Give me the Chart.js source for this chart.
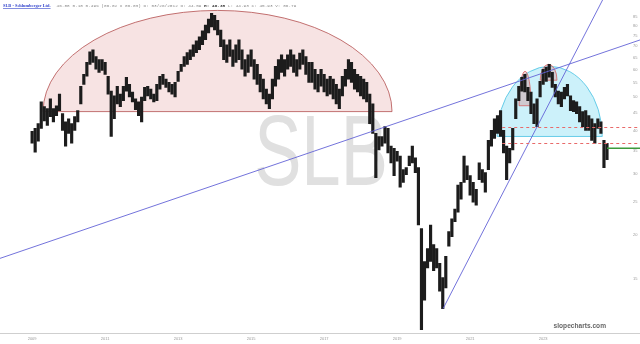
<!DOCTYPE html>
<html>
<head>
<meta charset="utf-8">
<script src="https://cdn.jsdelivr.net/npm/chart.js@4.4.1/dist/chart.umd.min.js"></script>
<style>
  html, body { margin: 0; padding: 0; background: #fff; }
</style>
</head>
<body>
<canvas id="myChart" width="640" height="344"></canvas>
<script>
// monthly high/low ranges, first bar is July 2009
const firstMonth = 2009.5;
const highs = [
  39.8, 40.6, 41.9, 48.4, 46.9, 46.3, 49.4, 46.3, 47.2, 51.0,
  44.8, 42.4, 43.3, 41.9, 43.9, 45.7, 53.7, 58.1, 62.9, 67.5,
  68.4, 65.4, 64.1, 64.1, 62.9, 57.4, 52.0, 50.4, 53.7, 51.0,
  53.7, 57.0, 54.4, 51.7, 49.4, 48.4, 50.0, 53.3, 53.7, 52.7,
  51.0, 54.4, 57.4, 58.1, 56.3, 55.1, 54.4, 55.1, 59.3, 62.1,
  65.4, 67.1, 68.4, 70.7, 72.6, 74.5, 77.5, 80.6, 83.8, 87.1,
  86.0, 83.2, 78.0, 73.1, 70.7, 73.1, 68.4, 70.7, 73.1, 68.4,
  64.1, 66.2, 68.4, 64.1, 62.1, 58.1, 56.3, 52.7, 51.0, 56.3,
  61.3, 64.1, 66.2, 64.1, 66.2, 68.4, 66.2, 64.1, 66.9, 68.4,
  65.4, 62.9, 62.9, 60.1, 58.1, 60.1, 58.1, 56.3, 57.4, 56.3,
  54.4, 52.7, 57.4, 60.1, 64.1, 62.9, 60.1, 58.1, 57.4, 56.3,
  55.1, 51.0, 47.8, 39.3, 38.5, 38.5, 41.1, 40.6, 36.1, 35.6,
  34.9, 33.8, 30.9, 31.3, 33.8, 36.1, 33.4, 31.3, 20.9, 16.8,
  18.3, 21.4, 18.8, 18.3, 16.6, 15.1, 17.4, 20.5, 22.3, 23.8,
  27.9, 28.4, 33.8, 31.7, 29.7, 28.4, 27.1, 32.3, 30.9, 30.3,
  37.5, 40.1, 43.3, 44.2, 45.7, 40.1, 36.1, 35.6, 40.6, 49.4,
  53.7, 57.0, 58.1, 53.3, 51.7, 47.8, 49.4, 55.5, 60.1, 60.9,
  62.1, 58.9, 54.4, 52.0, 51.7, 53.3, 54.4, 50.4, 48.8, 48.4,
  46.9, 45.4, 45.7, 44.2, 43.3, 41.9, 43.3, 42.4, 37.5, 36.8
];
const lows = [
  36.8, 34.7, 37.3, 40.6, 42.7, 41.4, 43.9, 42.4, 44.2, 45.7,
  40.1, 36.1, 39.3, 36.8, 40.1, 42.4, 47.8, 54.4, 57.4, 62.1,
  62.9, 60.1, 58.9, 59.7, 58.1, 51.0, 38.5, 43.3, 47.8, 46.9,
  48.8, 52.0, 50.0, 48.4, 46.0, 44.2, 42.4, 48.8, 50.4, 49.4,
  48.4, 48.8, 52.7, 54.4, 53.3, 51.7, 51.0, 50.0, 55.5, 59.3,
  61.3, 62.1, 64.1, 65.4, 67.1, 68.4, 70.7, 73.1, 76.5, 79.6,
  78.0, 75.5, 69.8, 64.1, 62.9, 65.4, 61.3, 62.9, 64.1, 60.1,
  57.4, 58.9, 61.3, 56.3, 54.4, 51.7, 49.4, 47.8, 46.3, 49.4,
  53.7, 56.3, 58.9, 57.4, 60.1, 61.3, 58.9, 57.4, 60.1, 62.1,
  58.1, 55.1, 55.1, 52.7, 51.7, 53.7, 51.7, 50.4, 51.0, 49.4,
  47.8, 46.3, 50.4, 53.7, 56.3, 55.1, 52.7, 51.7, 50.4, 49.4,
  48.4, 41.9, 39.3, 29.3, 35.2, 36.1, 36.8, 34.5, 32.3, 29.7,
  32.7, 27.5, 28.4, 29.9, 31.7, 32.3, 30.3, 21.4, 10.7, 13.0,
  16.1, 16.8, 15.8, 16.1, 13.8, 12.3, 14.1, 18.6, 19.8, 21.9,
  23.3, 25.4, 28.4, 28.9, 26.1, 24.9, 24.4, 28.9, 28.4, 26.6,
  30.9, 36.1, 38.0, 39.3, 38.5, 34.5, 28.9, 32.3, 35.2, 43.3,
  48.8, 52.0, 51.7, 48.8, 44.8, 41.9, 41.1, 50.0, 54.4, 55.5,
  57.0, 53.3, 50.0, 47.8, 46.9, 49.4, 50.4, 45.7, 45.4, 44.8,
  42.4, 41.1, 40.1, 40.1, 37.5, 36.8, 40.6, 39.3, 31.3, 33.0
];
const xTickYears = [2009, 2011, 2013, 2015, 2017, 2019, 2021, 2023];
const yTicks = [15, 20, 25, 30, 35, 40, 45, 50, 55, 60, 65, 70, 75, 80, 85];

// chart drawings as [from year, to year, base price, top price]
const bigArch = [2009.80, 2019.36, 45.4, 88.8];
const cyanArch = [2022.24, 2025.12, 38.5, 61.3];
const humpA = [2022.84, 2023.17, 47.2, 59.3];
const humpB = [2023.42, 2023.88, 55.9, 62.1];
// trend lines as two [year, price] points
const longTrend = [[2009.5, 18.45], [2025.06, 66.7]];
const steepTrend = [[2020.76, 12.3], [2023.31, 40.6]];
// horizontal levels [start year, price]
const levels = [[2022.38, 41.1], [2022.38, 36.8]];
const lastPrice = [2025.25, 35.6];

const bars = highs.map((h, i) => ({ x: firstMonth + i / 12, y: [lows[i], h] }));

function drawArch(ctx, x, y, a, fill, stroke) {
  const x0 = x.getPixelForValue(a[0]);
  const x1 = x.getPixelForValue(a[1]);
  const yb = y.getPixelForValue(a[2]);
  const yt = y.getPixelForValue(a[3]);
  ctx.beginPath();
  ctx.ellipse((x0 + x1) / 2, yb, (x1 - x0) / 2, yb - yt, 0, Math.PI, 2 * Math.PI);
  ctx.closePath();
  ctx.fillStyle = fill;
  ctx.fill();
  ctx.strokeStyle = stroke;
  ctx.lineWidth = 1;
  ctx.stroke();
}

// writes pieces of text one after the other, returns the end x
function writeRun(ctx, parts, x, y) {
  parts.forEach(p => {
    ctx.font = p.font;
    ctx.fillStyle = p.color;
    ctx.fillText(p.text, x, y);
    const w = ctx.measureText(p.text).width;
    if (p.underline) ctx.fillRect(x, y + 1, w, 0.6);
    x += w + (p.gap || 0);
  });
  return x;
}

const drawings = {
  id: 'drawings',
  beforeDraw(chart) {
    const { ctx } = chart;
    ctx.save();
    ctx.fillStyle = '#fff';
    ctx.fillRect(0, 0, chart.width, chart.height);
    // big ticker watermark
    ctx.fillStyle = '#e0e0e0';
    ctx.font = '101px "Liberation Sans"';
    ctx.textAlign = 'center';
    ctx.textBaseline = 'alphabetic';
    ctx.translate(321, 185);
    ctx.scale(0.70, 1);
    ctx.fillText('SLB', 0, 0);
    ctx.restore();
  },
  beforeDatasetsDraw(chart) {
    const { ctx, scales: { x, y } } = chart;
    ctx.save();
    drawArch(ctx, x, y, bigArch, 'rgba(205, 90, 90, 0.17)', 'rgba(175, 70, 70, 0.75)');
    drawArch(ctx, x, y, cyanArch, 'rgba(110, 215, 240, 0.35)', 'rgba(90, 200, 230, 0.9)');
    drawArch(ctx, x, y, humpA, 'rgba(215, 110, 110, 0.3)', 'rgba(215, 100, 100, 0.8)');
    drawArch(ctx, x, y, humpB, 'rgba(215, 110, 110, 0.3)', 'rgba(215, 100, 100, 0.8)');
    ctx.restore();
  },
  afterDatasetsDraw(chart) {
    const { ctx, scales: { x, y } } = chart;
    const W = chart.width;
    ctx.save();
    ctx.lineWidth = 1;
    ctx.strokeStyle = 'rgba(100, 100, 215, 0.9)';
    // long trend line runs across the whole picture
    let ax = x.getPixelForValue(longTrend[0][0]), ay = y.getPixelForValue(longTrend[0][1]);
    let bx = x.getPixelForValue(longTrend[1][0]), by = y.getPixelForValue(longTrend[1][1]);
    let m = (by - ay) / (bx - ax);
    ctx.beginPath();
    ctx.moveTo(0, ay - m * ax);
    ctx.lineTo(W, ay + m * (W - ax));
    ctx.stroke();
    // steep one starts at the 2020 retest and leaves through the top
    ax = x.getPixelForValue(steepTrend[0][0]); ay = y.getPixelForValue(steepTrend[0][1]);
    bx = x.getPixelForValue(steepTrend[1][0]); by = y.getPixelForValue(steepTrend[1][1]);
    m = (by - ay) / (bx - ax);
    ctx.beginPath();
    ctx.moveTo(ax, ay);
    ctx.lineTo(ax - ay / m, 0);
    ctx.stroke();
    // dashed levels
    ctx.strokeStyle = '#e86a6a';
    ctx.setLineDash([3, 3]);
    levels.forEach(l => {
      const py = Math.round(y.getPixelForValue(l[1])) + 0.5;
      ctx.beginPath();
      ctx.moveTo(x.getPixelForValue(l[0]), py);
      ctx.lineTo(W, py);
      ctx.stroke();
    });
    ctx.setLineDash([]);
    // last price marker
    ctx.strokeStyle = '#3c9a3c';
    ctx.lineWidth = 1.5;
    const gy = y.getPixelForValue(lastPrice[1]);
    ctx.beginPath();
    ctx.moveTo(x.getPixelForValue(lastPrice[0]), gy);
    ctx.lineTo(W, gy);
    ctx.stroke();
    ctx.restore();
  },
  afterDraw(chart) {
    const { ctx, chartArea: { bottom } } = chart;
    ctx.save();
    // bottom rule across the full width
    ctx.strokeStyle = '#cfcfcf';
    ctx.lineWidth = 1;
    ctx.beginPath();
    ctx.moveTo(0, Math.round(bottom) + 0.5);
    ctx.lineTo(chart.width, Math.round(bottom) + 0.5);
    ctx.stroke();
    // header
    ctx.textBaseline = 'alphabetic';
    const mono = '4.4px "Liberation Mono"';
    writeRun(ctx, [
      { text: 'SLB - Schlumberger Ltd.', font: 'bold 4.4px "Liberation Serif"', color: '#3344cc', underline: true, gap: 6 },
      { text: '46.88 0.18 0.49% (06.02 x 06.03) D: 03/26/2012 O: 44.59 ', font: mono, color: '#8a8a8a' },
      { text: 'H: 46.38', font: 'bold ' + mono, color: '#333', gap: 2.6 },
      { text: 'L: 44.93 C: 45.93 V: 86.79', font: mono, color: '#8a8a8a' }
    ], 3, 7);
    // site mark
    ctx.font = 'bold 6.6px "Liberation Sans"';
    ctx.fillStyle = '#666';
    ctx.textAlign = 'right';
    ctx.fillText('slopecharts.com', 606, 328);
    ctx.restore();
  }
};

new Chart(document.getElementById('myChart'), {
  type: 'bar',
  data: {
    datasets: [{
      data: bars,
      backgroundColor: '#1c1c1c',
      borderWidth: 0,
      barThickness: 2.5
    }]
  },
  options: {
    responsive: false,
    animation: false,
    layout: { padding: 0 },
    plugins: { legend: { display: false }, tooltip: { enabled: false } },
    scales: {
      x: {
        type: 'linear',
        offset: false,
        min: 2008.62,
        max: 2025.88,
        afterBuildTicks: (s) => { s.ticks = xTickYears.map(v => ({ value: v + 0.5 })); },
        afterFit: (s) => { s.height = 11; },
        ticks: {
          autoSkip: false,
          maxRotation: 0,
          padding: 3,
          color: '#9a9a9a',
          font: { size: 4, family: 'Liberation Sans' },
          callback: (v) => String(Math.floor(v))
        },
        grid: { display: false, drawTicks: false, offset: false },
        border: { display: false }
      },
      y: {
        type: 'logarithmic',
        position: 'right',
        min: 10.46,
        max: 91.8,
        afterBuildTicks: (s) => { s.ticks = yTicks.map(v => ({ value: v })); },
        afterFit: (s) => { s.width = 10; },
        ticks: {
          padding: 3,
          color: '#9a9a9a',
          font: { size: 4, family: 'Liberation Sans' },
          callback: (v) => String(v)
        },
        grid: { display: false, drawTicks: false },
        border: { display: false }
      }
    }
  },
  plugins: [drawings]
});
</script>
</body>
</html>
